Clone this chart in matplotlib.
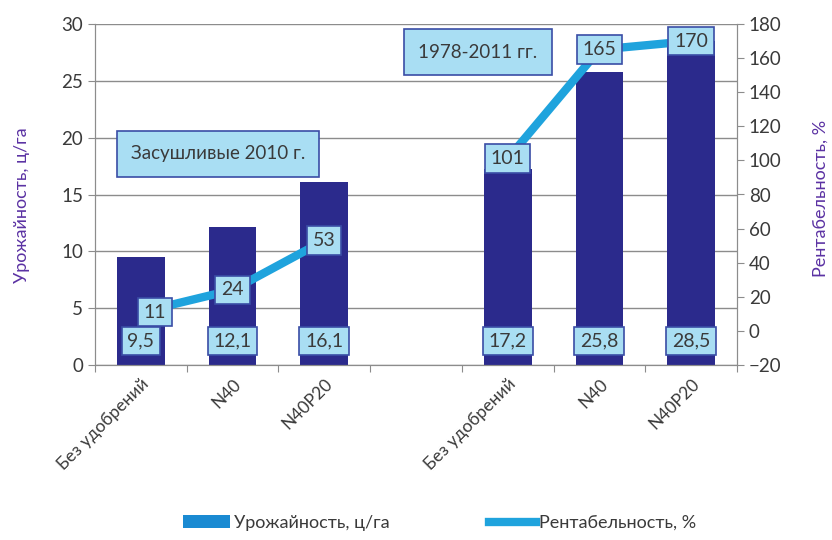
import numpy as np
import matplotlib.pyplot as plt
from matplotlib.patches import Patch
from matplotlib.lines import Line2D

plt.rcParams['font.family'] = ['Lato', 'DejaVu Sans']

# categories (empty slot separates the two periods)
categories = ['Без удобрений', 'N40', 'N40P20', '', 'Без удобрений', 'N40', 'N40P20']
yield_vals = [9.5, 12.1, 16.1, np.nan, 17.2, 25.8, 28.5]
yield_labels = ['9,5', '12,1', '16,1', '', '17,2', '25,8', '28,5']
profit_vals = [11, 24, 53, np.nan, 101, 165, 170]

BAR_COLOR = '#2B2A8C'
LINE_COLOR = '#1FA3DD'
BOX_FILL = '#A9DEF3'
BOX_EDGE = '#3A4DA6'
TEXT_COLOR = '#3a3a3a'
AXLABEL_COLOR = '#5B32A3'

fig = plt.figure(figsize=(8.32, 5.40), dpi=100)
ax = fig.add_axes([95 / 832, 1 - 365 / 540, (737 - 95) / 832, (365 - 24) / 540])
ax2 = ax.twinx()

x = np.arange(len(categories))
ax.bar(x, yield_vals, width=0.52, color=BAR_COLOR, zorder=2)
ax.set_xlim(-0.5, len(categories) - 0.5)
ax.set_ylim(0, 30)
ax.set_yticks(range(0, 31, 5))
ax.grid(axis='y', color='#8c8c8c', linewidth=1, zorder=0)
ax.set_axisbelow(True)

ax2.plot(x, profit_vals, color=LINE_COLOR, linewidth=6, solid_capstyle='butt', zorder=3)
ax2.set_ylim(-20, 180)
ax2.set_yticks(range(-20, 181, 20))

box = dict(boxstyle='square,pad=0.3', facecolor=BOX_FILL, edgecolor=BOX_EDGE, linewidth=1.2)

# line value labels
offsets = [0.15, 0, 0, 0, 0, 0, 0]
for xi, v, dx in zip(x, profit_vals, offsets):
    if np.isnan(v):
        continue
    ax2.text(xi + dx, v, f'{int(v)}', ha='center', va='center', fontsize=14,
             color=TEXT_COLOR, bbox=box, zorder=5)

# bar value labels near the base
for xi, lab in zip(x, yield_labels):
    if not lab:
        continue
    ax2.text(xi, 2.1, lab, transform=ax.transData,
             ha='center', va='center', fontsize=14, color=TEXT_COLOR, bbox=box, zorder=5)

note_box = dict(boxstyle='square,pad=0.75', facecolor=BOX_FILL, edgecolor=BOX_EDGE, linewidth=1.2)
ax2.text(218, 540 - 154, 'Засушливые 2010 г.', transform=None, ha='center', va='center',
         fontsize=13.5, color=TEXT_COLOR, bbox=note_box, zorder=5)
ax2.text(478, 540 - 52, '1978-2011 гг.', transform=None, ha='center', va='center',
         fontsize=13.5, color=TEXT_COLOR, bbox=note_box, zorder=5)

# x ticks at slot boundaries, labels at centers
ax.set_xticks(np.arange(-0.5, len(categories)), minor=False)
ax.set_xticklabels([])
ax.set_xticks(x, minor=True)
ax.set_xticklabels(categories, minor=True, rotation=45, ha='right', rotation_mode='anchor',
                   fontsize=12.5, color=TEXT_COLOR)
ax.tick_params(axis='x', which='minor', length=0, pad=8)
ax.tick_params(axis='x', which='major', length=5, color='#8c8c8c', direction='out')
ax.tick_params(axis='y', labelsize=13.5, labelcolor=TEXT_COLOR, length=5, color='#8c8c8c')
ax2.tick_params(axis='y', labelsize=13.5, labelcolor=TEXT_COLOR, length=5, color='#8c8c8c')

for a in (ax, ax2):
    a.spines['top'].set_visible(False)
    for s in ('left', 'right', 'bottom'):
        a.spines[s].set_color('#8c8c8c')

fig.text(22 / 832, 1 - 205 / 540, 'Урожайность, ц/га', rotation=90, ha='center', va='center',
         fontsize=13, color=AXLABEL_COLOR)
fig.text(821 / 832, 1 - 198 / 540, 'Рентабельность, %', rotation=90, ha='center', va='center',
         fontsize=13, color=AXLABEL_COLOR)

handles = [Patch(facecolor='#1a8ad2', edgecolor='none'),
           Line2D([0], [0], color=LINE_COLOR, linewidth=6)]
fig.legend(handles, ['Урожайность, ц/га', 'Рентабельность, %'], loc='center',
           bbox_to_anchor=(440 / 832, 1 - 523 / 540), ncol=2, frameon=False,
           fontsize=13, columnspacing=5.5, handlelength=2.6, handletextpad=0.2,
           labelcolor=TEXT_COLOR)

fig.savefig('out.png', dpi=100)
